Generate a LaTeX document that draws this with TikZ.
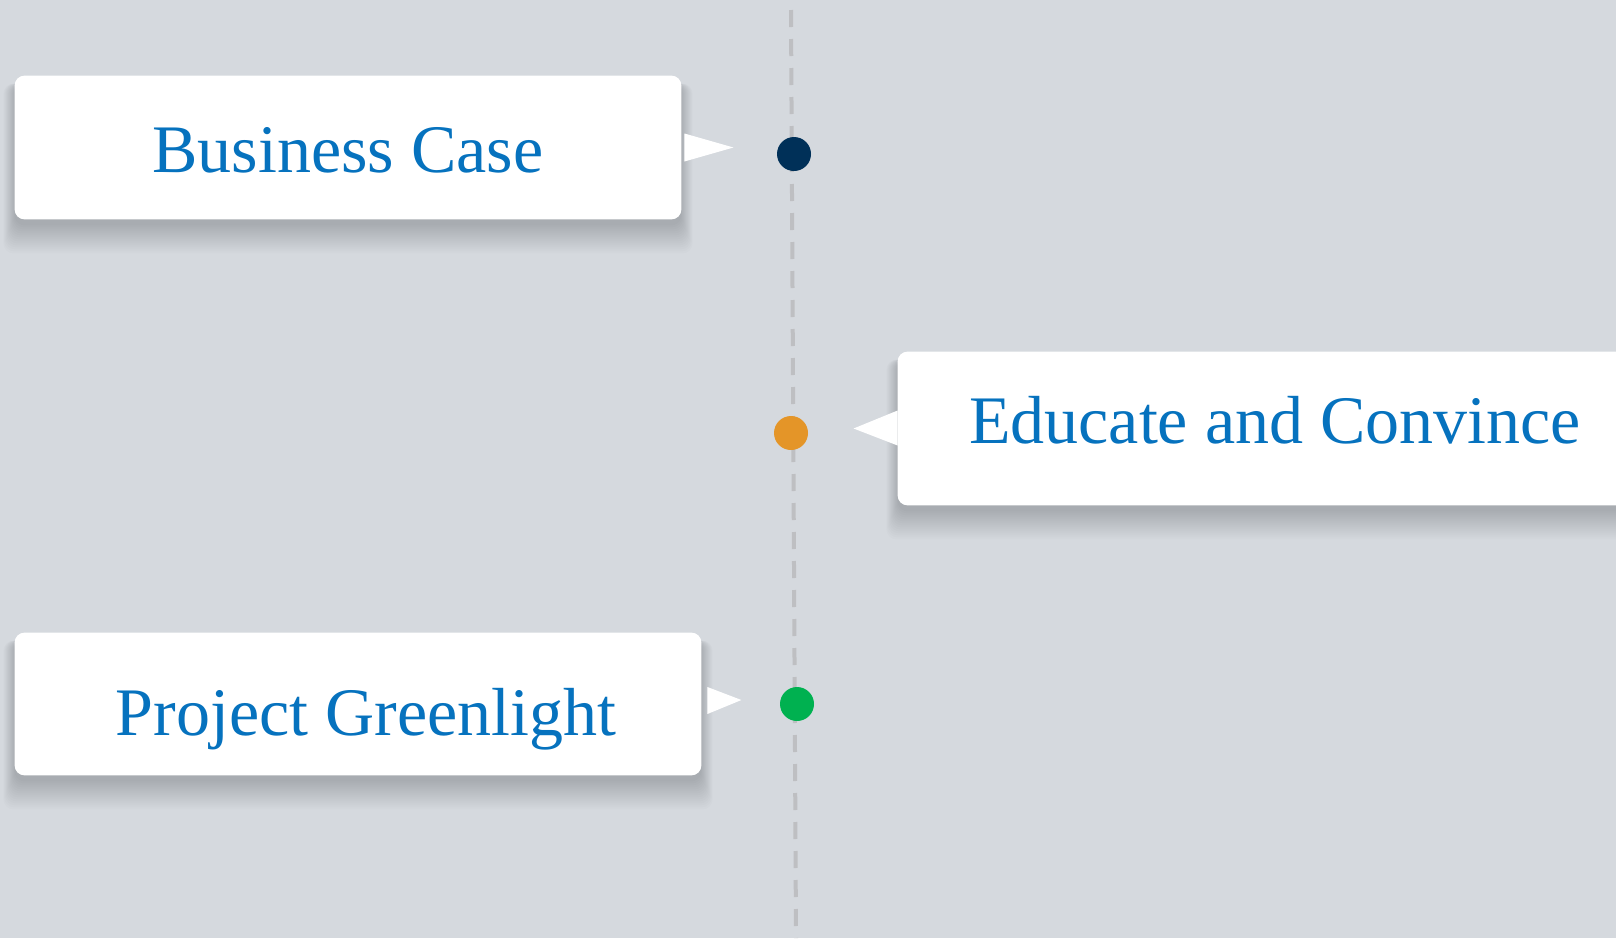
\documentclass[tikz,border=0pt]{standalone}
\usepackage{fontspec}
\setmainfont{Liberation Serif}
\usetikzlibrary{calc}

\definecolor{bggrey}{RGB}{213,217,222}
\definecolor{lanegrey}{RGB}{190,191,194}
\definecolor{labelblue}{RGB}{6,114,190}
\definecolor{navydot}{RGB}{0,48,88}
\definecolor{orangedot}{RGB}{228,149,40}
\definecolor{greendot}{RGB}{0,177,80}

\tikzset{
  card/.style={fill=white, rounded corners=5pt, inner sep=0pt},
  cardshade/.style={fill=black, opacity=0.012, rounded corners=5pt},
  cardtext/.style={anchor=base, inner sep=0pt, text=labelblue,
    font=\fontsize{34}{40}\selectfont},
  milestone/.style={circle, inner sep=0pt, minimum size=17pt},
  pointer/.style={fill=white}
}

\begin{document}
\begin{tikzpicture}[x=0.5pt,y=0.5pt,yscale=-1]
	%Background
	\fill[bggrey] (0,0) rectangle (1616,938);
	\useasboundingbox (0,0) rectangle (1616,938);
	
	%Straight Lines: time line
	\draw[lanegrey, line width=2pt, dash pattern={on 8.5pt off 6pt}] (791,10) -- (796,938);
	
	%Shape: cards (only placed here, filled after the shadow)
	\path (348,147.5) node[inner sep=0pt, minimum width=333pt, minimum height=71.5pt] (business) {}
	      (1276,428.5) node[inner sep=0pt, minimum width=378pt, minimum height=76.5pt] (educate) {}
	      (358,704) node[inner sep=0pt, minimum width=343pt, minimum height=71pt] (greenlight) {};
	
	%Soft shadow under the cards
	\foreach \c in {business,educate,greenlight}{
	  \foreach \k in {0,...,14}{
	    \fill[cardshade] ($(\c.north west)+(-0.8*\k,8)$) rectangle ($(\c.south east)+(0.8*\k,6+2*\k)$);
	  }
	}
	
	%Shape: white cards
	\fill[card] (business.north west) rectangle (business.south east);
	\fill[card] (educate.north west) rectangle (educate.south east);
	\fill[card] (greenlight.north west) rectangle (greenlight.south east);
	
	% Text Node
	\node[cardtext] (business-txt) at ($(business)+(0,24.5)$) {Business Case};
	% Text Node
	\node[cardtext] (educate-txt) at ($(educate)+(-1,14.5)$) {Educate and Convince};
	% Text Node
	\node[cardtext] (greenlight-txt) at ($(greenlight)+(8,31)$) {Project Greenlight};
	
	%Shape: milestone dots
	\node[milestone, fill=navydot] (bcdot) at (794,154) {};
	\node[milestone, fill=orangedot] (ecdot) at (791,433) {};
	\node[milestone, fill=greendot] (pgdot) at (797,704) {};
	
	%Shape: pointers from the cards
	\fill[pointer] ($(business.east)+(3,-14)$) -- ($(business.east)+(52,0)$) -- ($(business.east)+(3,14)$) -- cycle;
	\fill[pointer] ($(educate.west)+(0,-18)$) -- ($(educate.west)+(-44,0)$) -- ($(educate.west)+(0,17)$) -- cycle;
	\fill[pointer] ($(greenlight.east)+(6,-17)$) -- ($(greenlight.east)+(40,-4)$) -- ($(greenlight.east)+(6,10)$) -- cycle;
	
\end{tikzpicture}
\end{document}
